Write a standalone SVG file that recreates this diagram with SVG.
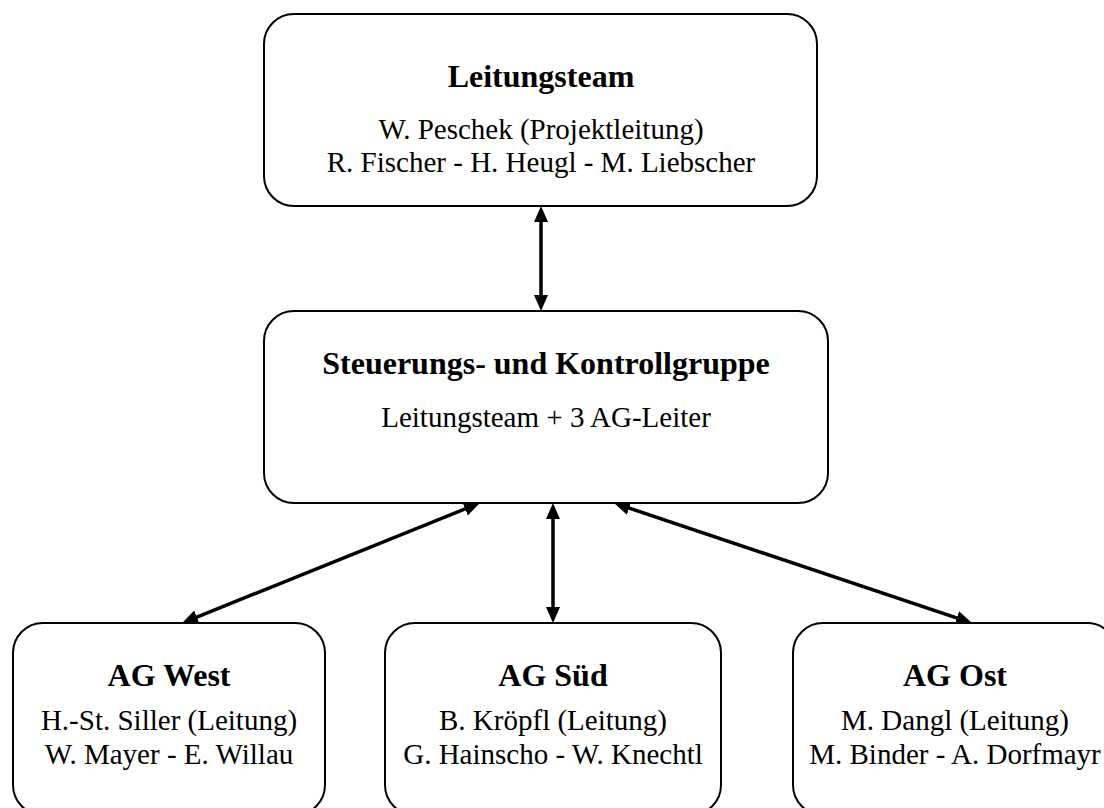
<svg xmlns="http://www.w3.org/2000/svg" width="1104" height="808" viewBox="0 0 1104 808">
<style>
.box{fill:#fff;stroke:#000;stroke-width:2}
.t{font-family:"Liberation Serif","Times New Roman",serif;font-size:32px;font-weight:bold;text-anchor:middle;fill:#000}
.r{font-family:"Liberation Serif","Times New Roman",serif;font-size:29px;text-anchor:middle;fill:#000}
.c{stroke:#000;stroke-width:3.5;fill:none;marker-start:url(#ah);marker-end:url(#ah)}
</style>
<defs>
<marker id="ah" markerUnits="userSpaceOnUse" markerWidth="16" markerHeight="14" refX="6" refY="7" orient="auto-start-reverse" viewBox="0 0 16 14">
<path d="M0,0 L16,7 L0,14 z" fill="#000"/>
</marker>
</defs>
<rect width="1104" height="808" fill="#fff"/>
<g id="connectors">
<line class="c" x1="541" y1="216" x2="541" y2="301"/>
<line class="c" x1="470.7" y1="506.7" x2="191.3" y2="619.3"/>
<line class="c" x1="553" y1="513" x2="553" y2="613"/>
<line class="c" x1="623.5" y1="506.2" x2="962.5" y2="619.8"/>
</g>
<g id="leitungsteam">
<rect class="box" x="264" y="14" width="553" height="192" rx="30" ry="30"/>
<text class="t" x="541" y="87">Leitungsteam</text>
<text class="r" x="541" y="139">W. Peschek (Projektleitung)</text>
<text class="r" x="541" y="172">R. Fischer - H. Heugl - M. Liebscher</text>
</g>
<g id="steuerung">
<rect class="box" x="264" y="311" width="564" height="192" rx="30" ry="30"/>
<text class="t" x="546" y="374">Steuerungs- und Kontrollgruppe</text>
<text class="r" x="546" y="427">Leitungsteam + 3 AG-Leiter</text>
</g>
<g id="ag-west">
<rect class="box" x="13" y="623" width="312" height="192" rx="30" ry="30"/>
<text class="t" x="169" y="686">AG West</text>
<text class="r" x="169" y="730">H.-St. Siller (Leitung)</text>
<text class="r" x="169" y="764">W. Mayer - E. Willau</text>
</g>
<g id="ag-sued">
<rect class="box" x="385" y="623" width="336" height="192" rx="30" ry="30"/>
<text class="t" x="553" y="686">AG Süd</text>
<text class="r" x="553" y="730">B. Kröpfl (Leitung)</text>
<text class="r" x="553" y="764">G. Hainscho - W. Knechtl</text>
</g>
<g id="ag-ost">
<rect class="box" x="793" y="623" width="324" height="192" rx="30" ry="30"/>
<text class="t" x="955" y="686">AG Ost</text>
<text class="r" x="955" y="730">M. Dangl (Leitung)</text>
<text class="r" x="955" y="764">M. Binder - A. Dorfmayr</text>
</g>
</svg>
